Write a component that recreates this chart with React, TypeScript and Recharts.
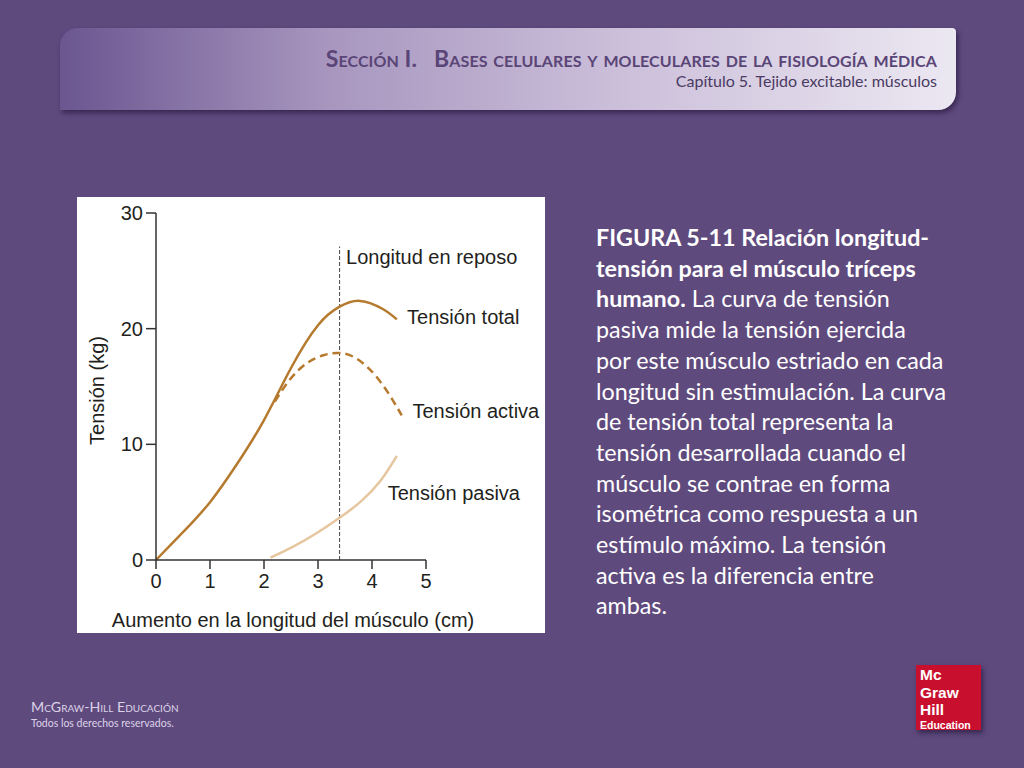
import React from 'react';
import { LineChart, Line, XAxis, YAxis, ReferenceLine, ReferenceDot } from 'recharts';

// length increase (cm) vs tension (kg)
const totalTension = [
  { x: 0, y: 0 },
  { x: 0.5, y: 2.4 },
  { x: 1, y: 5.0 },
  { x: 1.5, y: 8.3 },
  { x: 2, y: 12.1 },
  { x: 2.5, y: 16.6 },
  { x: 3, y: 20.3 },
  { x: 3.4, y: 21.9 },
  { x: 3.78, y: 22.4 },
  { x: 4.2, y: 21.7 },
  { x: 4.46, y: 20.8 },
];

const activeTension = [
  { x: 2.2, y: 13.7 },
  { x: 2.48, y: 15.6 },
  { x: 2.79, y: 17.0 },
  { x: 3.1, y: 17.7 },
  { x: 3.4, y: 17.9 },
  { x: 3.72, y: 17.4 },
  { x: 4.09, y: 15.8 },
  { x: 4.4, y: 13.7 },
  { x: 4.55, y: 12.5 },
];

const passiveTension = [
  { x: 2.12, y: 0.2 },
  { x: 2.54, y: 1.15 },
  { x: 3, y: 2.4 },
  { x: 3.4, y: 3.65 },
  { x: 3.78, y: 5.0 },
  { x: 4.15, y: 6.8 },
  { x: 4.46, y: 9.0 },
];

const restLength = 3.4;
const xTicks = [0, 1, 2, 3, 4, 5];
const yTicks = [0, 10, 20, 30];

const curveLabels = [
  { x: 3.52, y: 26.2, text: 'Longitud en reposo' },
  { x: 4.65, y: 21.0, text: 'Tensión total' },
  { x: 4.75, y: 12.9, text: 'Tensión activa' },
  { x: 4.29, y: 5.8, text: 'Tensión pasiva' },
];

const bodyLines = [
  { bold: 'FIGURA 5-11 Relación longitud-', rest: '' },
  { bold: 'tensión para el músculo tríceps', rest: '' },
  { bold: 'humano.', rest: ' La curva de tensión' },
  { bold: '', rest: 'pasiva mide la tensión ejercida' },
  { bold: '', rest: 'por este músculo estriado en cada' },
  { bold: '', rest: 'longitud sin estimulación. La curva' },
  { bold: '', rest: 'de tensión total representa la' },
  { bold: '', rest: 'tensión desarrollada cuando el' },
  { bold: '', rest: 'músculo se contrae en forma' },
  { bold: '', rest: 'isométrica como respuesta a un' },
  { bold: '', rest: 'estímulo máximo. La tensión' },
  { bold: '', rest: 'activa es la diferencia entre' },
  { bold: '', rest: 'ambas.' },
];

const logoLines = ['Mc', 'Graw', 'Hill'];

const INK = '#231f20';
const BROWN = '#b67a2f';
const TAN = '#e6c69f';
const CHART_FONT = '"Liberation Sans", Arial, sans-serif';
const FS = 20;

export default function App() {
  return (
    <div
      style={{
        position: 'absolute',
        left: 0,
        top: 0,
        width: 1024,
        height: 768,
        background: '#5f4a7e',
        overflow: 'hidden',
        fontFamily: 'Lato, "Open Sans", sans-serif',
      }}
    >
      {/* header banner */}
      <div
        style={{
          position: 'absolute',
          left: 60,
          top: 28,
          width: 896,
          height: 82,
          borderRadius: '18px 4px 18px 0',
          background: 'linear-gradient(90deg, #6b5690 0%, #a896bf 30%, #c9bcd8 60%, #ece8f2 100%)',
          boxShadow: '2px 3px 5px rgba(30,15,50,0.6)',
        }}
      />
      <div
        style={{
          position: 'absolute',
          right: 1024 - 937,
          top: 44,
          color: '#5a4577',
          fontSize: 23,
          fontWeight: 700,
          fontVariant: 'small-caps',
          whiteSpace: 'nowrap',
          letterSpacing: 0.1,
        }}
      >
        Sección I.&nbsp;&nbsp; Bases celulares y moleculares de la fisiología médica
      </div>
      <div
        style={{
          position: 'absolute',
          right: 1024 - 937,
          top: 71,
          color: '#4a3a62',
          fontSize: 16,
          whiteSpace: 'nowrap',
        }}
      >
        Capítulo 5. Tejido excitable: músculos
      </div>

      {/* figure */}
      <div
        style={{
          position: 'absolute',
          left: 77,
          top: 197,
          width: 468,
          height: 436,
          background: '#ffffff',
        }}
      >
        <LineChart width={468} height={436} margin={{ top: 16, right: 119, bottom: 0, left: 0 }}>
          <XAxis
            type="number"
            dataKey="x"
            domain={[0, 5]}
            ticks={xTicks}
            height={73}
            tickSize={9}
            tickMargin={5}
            stroke="#333"
            strokeWidth={1.5}
            tick={{ fill: INK, fontSize: FS, fontFamily: CHART_FONT }}
            allowDataOverflow
            label={{
              value: 'Aumento en la longitud del músculo (cm)',
              position: 'insideBottom',
              offset: 6,
              dx: 2,
              fill: INK,
              fontSize: FS,
              fontFamily: CHART_FONT,
            }}
          />
          <YAxis
            type="number"
            domain={[0, 30]}
            ticks={yTicks}
            width={79}
            tickSize={10}
            tickMargin={3}
            stroke="#333"
            strokeWidth={1.5}
            tick={{ fill: INK, fontSize: FS, fontFamily: CHART_FONT }}
            label={{
              value: 'Tensión (kg)',
              angle: -90,
              position: 'insideLeft',
              offset: 20,
              dy: 4,
              fill: INK,
              fontSize: FS,
              fontFamily: CHART_FONT,
              style: { textAnchor: 'middle' },
            }}
          />
          <ReferenceLine
            segment={[
              { x: restLength, y: 0 },
              { x: restLength, y: 27.1 },
            ]}
            stroke="#444"
            strokeWidth={1}
            strokeDasharray="4 2"
          />
          <Line
            data={passiveTension}
            dataKey="y"
            type="natural"
            stroke={TAN}
            strokeWidth={2.5}
            dot={false}
            isAnimationActive={false}
          />
          <Line
            data={activeTension}
            dataKey="y"
            type="natural"
            stroke={BROWN}
            strokeWidth={2.5}
            strokeDasharray="8 5"
            dot={false}
            isAnimationActive={false}
          />
          <Line
            data={totalTension}
            dataKey="y"
            type="natural"
            stroke={BROWN}
            strokeWidth={2.5}
            dot={false}
            isAnimationActive={false}
          />
          {curveLabels.map((l) => (
            <ReferenceDot
              key={l.text}
              x={l.x}
              y={l.y}
              r={0}
              stroke="none"
              fill="none"
              ifOverflow="visible"
              label={{
                value: l.text,
                position: 'right',
                offset: 0,
                fill: INK,
                fontSize: FS,
                fontFamily: CHART_FONT,
              }}
            />
          ))}
        </LineChart>
      </div>

      {/* caption */}
      <div
        style={{
          position: 'absolute',
          left: 596,
          top: 222,
          color: '#ffffff',
          fontSize: 23.3,
          lineHeight: '30.7px',
          fontFamily: 'Lato, "Open Sans", sans-serif',
          whiteSpace: 'nowrap',
        }}
      >
        {bodyLines.map((ln, i) => (
          <div key={i}>
            {ln.bold && <b>{ln.bold}</b>}
            {ln.rest}
          </div>
        ))}
      </div>

      {/* footer */}
      <div
        style={{
          position: 'absolute',
          left: 31,
          top: 698,
          color: '#dcd3e8',
          fontSize: 14.2,
          fontVariant: 'small-caps',
          whiteSpace: 'nowrap',
        }}
      >
        McGraw-Hill Educación
      </div>
      <div
        style={{
          position: 'absolute',
          left: 31,
          top: 717,
          color: '#dcd3e8',
          fontSize: 10.5,
          whiteSpace: 'nowrap',
        }}
      >
        Todos los derechos reservados.
      </div>

      {/* logo */}
      <div
        style={{
          position: 'absolute',
          left: 916,
          top: 665,
          width: 65,
          height: 65,
          background: '#c8102e',
          boxShadow: '2px 3px 5px rgba(20,10,40,0.55)',
          color: '#ffffff',
          fontFamily: '"Liberation Sans", Arial, sans-serif',
          fontWeight: 700,
          boxSizing: 'border-box',
          padding: '1px 0 0 4px',
        }}
      >
        {logoLines.map((t) => (
          <div key={t} style={{ fontSize: 15.5, lineHeight: '17.5px' }}>
            {t}
          </div>
        ))}
        <div style={{ fontSize: 10.5, lineHeight: '12px' }}>Education</div>
      </div>
    </div>
  );
}
